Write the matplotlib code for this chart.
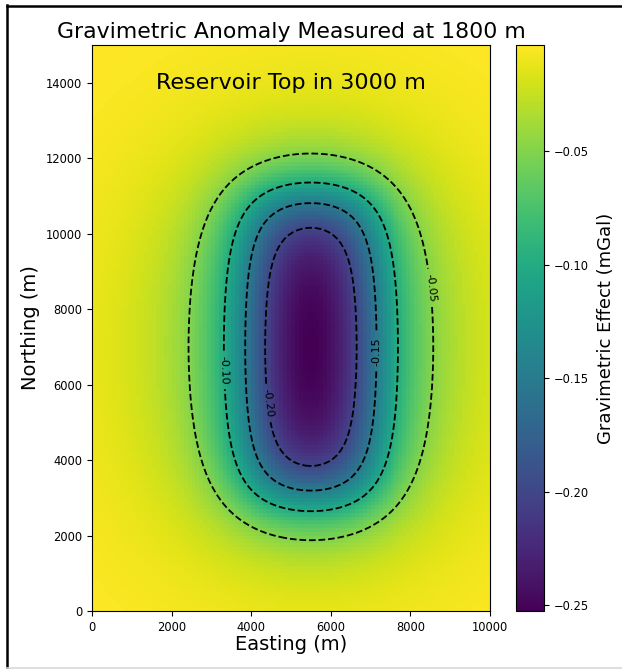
import numpy as np
import matplotlib
matplotlib.use("Agg")
import matplotlib.pyplot as plt
from matplotlib.lines import Line2D

# ---- survey / model parameters ----
easting_edges = np.arange(0, 10001, 100)      # m
northing_edges = np.arange(0, 15001, 100)     # m
obs_depth = 1800.0                             # m, measurement level
reservoir_top = 3000.0                         # m
reservoir_thickness = 100.0                    # m
reservoir_x = (4000.0, 7000.0)                 # m, easting extent
reservoir_y = (3000.0, 11000.0)                # m, northing extent
density_contrast = -115.0                      # kg/m^3
contour_levels = [-0.20, -0.15, -0.10, -0.05]
cbar_ticks = [-0.25, -0.20, -0.15, -0.10, -0.05]
x_ticks = [0, 2000, 4000, 6000, 8000, 10000]
y_ticks = [0, 2000, 4000, 6000, 8000, 10000, 12000, 14000]
label_pos = [(4400, 5510), (7100, 6860), (3350, 6390), (8450, 8560)]

G = 6.674e-11


def prism_gz(xo, yo, x1, x2, y1, y2, z1, z2, rho):
    tot = 0.0
    for i, xb in enumerate([x1, x2]):
        for j, yb in enumerate([y1, y2]):
            for k, zb in enumerate([z1, z2]):
                s = (-1) ** (i + j + k)
                xi = xb - xo
                yj = yb - yo
                r = np.sqrt(xi ** 2 + yj ** 2 + zb ** 2)
                t = (xi * np.log(yj + r) + yj * np.log(xi + r)
                     - zb * np.arctan2(xi * yj, zb * r))
                tot = tot + s * t
    return -G * rho * tot * 1e5  # mGal


xc = 0.5 * (easting_edges[:-1] + easting_edges[1:])
yc = 0.5 * (northing_edges[:-1] + northing_edges[1:])
XC, YC = np.meshgrid(xc, yc)
z1 = reservoir_top - obs_depth
z2 = z1 + reservoir_thickness
gz = prism_gz(XC, YC, reservoir_x[0], reservoir_x[1], reservoir_y[0], reservoir_y[1],
              z1, z2, density_contrast)
if gz.min() > 0:
    gz = -gz

fig = plt.figure(figsize=(6.22, 6.69), dpi=100)
ax = fig.add_axes([92 / 622, 58 / 669, 398 / 622, 566 / 669])
cax = fig.add_axes([516 / 622, 58 / 669, 28 / 622, 566 / 669])

pm = ax.pcolormesh(easting_edges, northing_edges, gz, cmap="viridis", shading="flat")
cs = ax.contour(XC, YC, gz, levels=contour_levels, colors="k", linestyles="dashed",
                linewidths=1.3)
ax.clabel(cs, fmt="%.2f", fontsize=8, inline=True, manual=label_pos)
ax.set_xlim(0, 10000)
ax.set_ylim(0, 15000)
ax.set_xticks(x_ticks)
ax.set_yticks(y_ticks)
ax.tick_params(labelsize=8.3)
ax.set_xlabel("Easting (m)", fontsize=14, labelpad=1)
ax.set_ylabel("Northing (m)", fontsize=14)
ax.set_title("Gravimetric Anomaly Measured at 1800 m", fontsize=15.8, pad=5)
ax.text(5000, 14000, "Reservoir Top in 3000 m", fontsize=16, ha="center", va="center")

cb = fig.colorbar(pm, cax=cax)
cb.set_ticks(cbar_ticks)
cb.ax.tick_params(labelsize=8.3)
cb.set_label("Gravimetric Effect (mGal)", fontsize=13, labelpad=6)

fig.add_artist(Line2D([6.5 / 622, 6.5 / 622], [0, 1 - 5 / 669], color="k", lw=1.8,
                      transform=fig.transFigure))
fig.add_artist(Line2D([6.5 / 622, 1], [1 - 6 / 669, 1 - 6 / 669], color="k", lw=1.8,
                      transform=fig.transFigure))
fig.add_artist(Line2D([6.5 / 622, 1], [1.5 / 669, 1.5 / 669], color="#d8d8d8", lw=1.2,
                      transform=fig.transFigure))

fig.savefig("out.png", dpi=100)
